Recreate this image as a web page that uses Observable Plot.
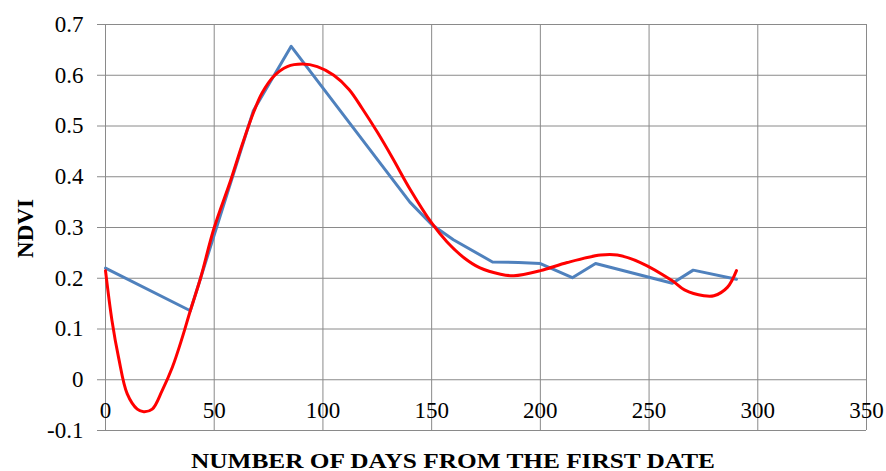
<!DOCTYPE html>
<html>
<head>
<meta charset="utf-8">
<script src="https://cdn.jsdelivr.net/npm/d3@7"></script>
<script src="https://cdn.jsdelivr.net/npm/@observablehq/plot@0.6"></script>
<style>
  html, body { margin: 0; padding: 0; background: #fff; }
  #chart svg { display: block; }
</style>
</head>
<body>
<div id="chart"></div>
<script>
// Observed NDVI (blue polyline)
const obsDays = [0, 39, 68, 85.4, 140, 150, 160, 178, 190, 200, 214.7, 225.4, 260.7, 270.3, 290.2];
const obsNdvi = [0.22, 0.136, 0.53, 0.657, 0.35, 0.306, 0.276, 0.232, 0.231, 0.229, 0.201, 0.229, 0.190, 0.216, 0.198];

// Fitted NDVI (red smooth curve)
const fitDays = [0, 3, 6, 10, 14.6, 17.6, 21.5, 26, 30.7, 35.3, 39, 43.7, 49.8, 57.5, 63, 68.2, 72, 77.4, 83.6, 90.5, 97.4, 105, 112, 118, 125, 132, 140, 150, 157, 165, 172, 181.7, 187.8, 200, 212.4, 227.7, 235.4, 246, 260.7, 266.3, 275.2, 279.8, 286, 290.2];
const fitNdvi = [0.215, 0.116, 0.044, -0.028, -0.058, -0.063, -0.058, -0.022, 0.024, 0.083, 0.136, 0.20, 0.297, 0.392, 0.465, 0.528, 0.565, 0.598, 0.617, 0.622, 0.617, 0.600, 0.572, 0.535, 0.488, 0.437, 0.376, 0.309, 0.272, 0.24, 0.221, 0.208, 0.205, 0.215, 0.231, 0.2457, 0.2457, 0.231, 0.195, 0.177, 0.1655, 0.1655, 0.182, 0.215];

const xTicks = [0, 50, 100, 150, 200, 250, 300, 350];
const yTicks = [-0.1, 0, 0.1, 0.2, 0.3, 0.4, 0.5, 0.6, 0.7];
const xTitle = "NUMBER OF DAYS FROM THE FIRST DATE";
const yTitle = "NDVI";

const observed = obsDays.map((d, i) => ({day: d, ndvi: obsNdvi[i]}));
const fitted = fitDays.map((d, i) => ({day: d, ndvi: fitNdvi[i]}));

const gridColor = "#8a8a8a";
const font = "'Liberation Serif', 'Times New Roman', serif";

const chart = Plot.plot({
  width: 886,
  height: 471,
  marginLeft: 105,
  marginRight: 20,
  marginTop: 24,
  marginBottom: 41,
  style: {fontFamily: font, fontSize: "23px", color: "#000", background: "#fff", overflow: "visible"},
  x: {domain: [0, 350], ticks: xTicks},
  y: {domain: [-0.1, 0.7], ticks: yTicks},
  marks: [
    Plot.gridX(xTicks, {stroke: gridColor, strokeOpacity: 1, strokeWidth: 1}),
    Plot.gridY(yTicks, {stroke: gridColor, strokeOpacity: 1, strokeWidth: 1}),
    Plot.axisY(yTicks, {
      tickSize: 8, tickPadding: 14, stroke: gridColor, strokeOpacity: 1,
      tickFormat: d => d3.format(".1f")(d).replace("−", "-").replace("0.0", "0"),
      fill: "#000", fontSize: 23, label: null
    }),
    Plot.axisX({ticks: [], label: null}),
    Plot.text(xTicks, {x: d => d, y: -0.1, dy: -20, text: d => String(d), fill: "#000", fontSize: 23, lineAnchor: "middle"}),
    Plot.line(observed, {x: "day", y: "ndvi", stroke: "#4f81bd", strokeWidth: 3}),
    Plot.line(fitted, {x: "day", y: "ndvi", stroke: "#ff0000", strokeWidth: 3, curve: "catmull-rom"}),
    Plot.text([xTitle], {frameAnchor: "bottom", dx: -33, dy: 30, text: d => d, fontWeight: "bold", fontSize: 22, fill: "#000", lineAnchor: "middle", className: "xtitle"}),
    Plot.text([yTitle], {frameAnchor: "left", dx: -80, dy: 1, rotate: -90, text: d => d, fontWeight: "bold", fontSize: 23, fill: "#000", textAnchor: "middle", lineAnchor: "middle"})
  ]
});

document.getElementById("chart").appendChild(chart);
// stretch the x title to the reference width
d3.select(chart).selectAll(".xtitle text").attr("textLength", 524).attr("lengthAdjust", "spacingAndGlyphs");
</script>
</body>
</html>
